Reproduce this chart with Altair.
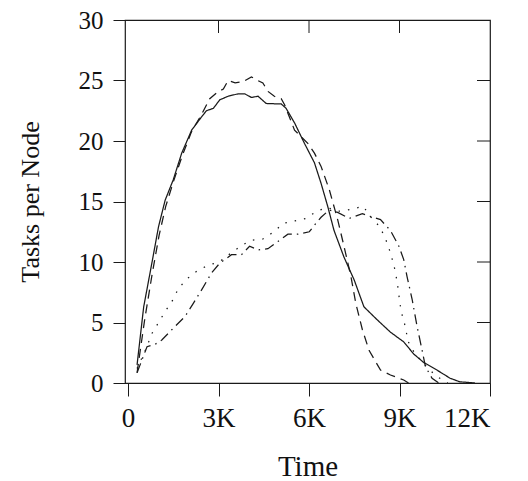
import altair as alt
import pandas as pd

# Time in thousands, Tasks per Node
solid_t = [0.3, 0.52, 0.79, 1.01, 1.23, 1.5, 1.78, 2.11, 2.44, 2.6, 2.83, 3.04, 3.32, 3.65, 3.87, 4.09, 4.31, 4.58,
           5.08, 5.24, 5.52, 5.85, 6.18, 6.4, 6.62, 6.83, 7.16, 7.5, 7.82, 8.27, 8.7, 9.14, 9.47, 9.8, 10.24, 10.68, 11.0, 11.5]
solid_v = [1.5, 6.3, 9.9, 12.9, 15.1, 16.8, 19.0, 20.9, 22.0, 22.5, 22.7, 23.4, 23.7, 23.9, 23.9, 23.6, 23.7, 23.1,
           23.06, 22.7, 21.5, 19.8, 18.2, 16.5, 14.6, 12.6, 10.4, 8.5, 6.3, 5.2, 4.2, 3.4, 2.4, 1.7, 1.07, 0.39, 0.1, 0.0]

dash_t = [0.3, 0.55, 0.8, 1.03, 1.25, 1.5, 1.8, 2.11, 2.44, 2.71, 2.95, 3.16, 3.32, 3.55, 3.81, 4.09, 4.3, 4.47, 4.64,
          4.85, 5.08, 5.19, 5.52, 5.96, 6.18, 6.4, 6.67, 6.95, 7.16, 7.39, 7.55, 7.77, 7.99, 8.37, 8.7, 9.14, 9.3]
dash_v = [0.85, 5.2, 9.0, 12.2, 14.6, 16.6, 18.8, 20.8, 22.2, 23.5, 24.0, 24.3, 25.0, 24.8, 24.9, 25.3, 25.0, 24.8, 24.1,
          23.7, 23.5, 23.0, 20.9, 19.8, 19.0, 17.9, 16.0, 13.5, 11.3, 8.8, 6.6, 4.4, 2.7, 1.07, 0.66, 0.25, 0.0]

dot_t = [0.3, 0.63, 0.77, 0.99, 1.23, 1.47, 1.67, 1.95, 2.31, 2.68, 3.02, 3.34, 3.73, 4.07, 4.47, 4.84, 5.15, 5.54,
         5.9, 6.26, 6.6, 7.0, 7.39, 7.8, 8.02, 8.35, 8.54, 8.68, 8.81, 8.89, 8.96, 9.01, 9.09, 9.21, 9.27, 9.47, 9.8,
         10.2, 10.6]
dot_v = [1.2, 3.0, 4.0, 4.9, 5.9, 6.8, 7.8, 8.6, 9.3, 9.75, 10.0, 10.6, 11.3, 11.8, 11.9, 12.5, 13.2, 13.4,
         13.6, 14.2, 14.5, 14.2, 14.35, 14.6, 13.8, 12.9, 11.9, 10.9, 9.8, 8.8, 7.7, 6.6, 5.6, 4.5, 3.5, 2.6, 1.6,
         0.6, 0.0]

dd_t = [0.3, 0.63, 0.9, 1.12, 1.45, 1.89, 2.17, 2.44, 2.77, 3.04, 3.43, 3.76, 4.03, 4.31, 4.64, 4.97, 5.3, 5.63,
        6.01, 6.23, 6.4, 6.67, 6.95, 7.33, 7.77, 7.99, 8.37, 8.7, 8.98, 9.14, 9.25, 9.42, 9.58, 9.75, 9.86, 10.08, 10.3]
dd_v = [0.85, 3.0, 3.2, 3.55, 4.4, 5.5, 6.6, 7.7, 9.1, 9.9, 10.6, 10.6, 11.3, 11.0, 11.1, 11.7, 12.3, 12.3,
        12.5, 13.2, 13.7, 14.3, 14.1, 13.6, 14.0, 13.8, 13.5, 12.6, 11.3, 10.2, 8.8, 6.9, 4.7, 2.7, 1.35, 0.39, 0.0]

x_ticks = [0, 3000, 6000, 9000, 12000]
y_ticks = [0, 5, 10, 15, 20, 25, 30]
top_ticks = [3000, 6000, 9000]
right_ticks = [5, 10, 15, 20, 25]

series = [("solid", solid_t, solid_v), ("dashed", dash_t, dash_v),
          ("dotted", dot_t, dot_v), ("dashdot", dd_t, dd_v)]
rows = []
for name, ts, vs in series:
    for i, (t, v) in enumerate(zip(ts, vs)):
        rows.append({"s": name, "t": t * 1000, "v": v, "i": i})
df = pd.DataFrame(rows)

W, H = 365, 363
FONT = "Liberation Serif"

xscale = alt.Scale(domain=[-100, 12000], nice=False, zero=False)
yscale = alt.Scale(domain=[0, 30], nice=False)

xaxis = alt.Axis(values=x_ticks, title="Time", grid=False, domain=False,
                 tickSize=13, tickColor="#1a1a1a", labelPadding=9,
                 labelExpr="datum.value == 0 ? '0' : (datum.value / 1000) + 'K'",
                 labelFont=FONT, labelFontSize=27, labelColor="#111",
                 titleFont=FONT, titleFontSize=29, titleFontWeight="normal", titleColor="#111",
                 titleX=W / 2, titleY=92, titleBaseline="alphabetic")
yaxis = alt.Axis(values=y_ticks, title="Tasks per Node", grid=False, domain=False,
                 tickSize=12, tickColor="#1a1a1a", labelPadding=10,
                 labelFont=FONT, labelFontSize=25, labelColor="#111",
                 titleFont=FONT, titleFontSize=26, titleFontWeight="normal", titleColor="#111",
                 titleX=-87, titleY=H / 2, titleBaseline="alphabetic", titleAlign="center",
                 titleAngle=270)

lines = alt.Chart(df).mark_line(color="#1a1a1a", strokeWidth=1.25, strokeCap="butt").encode(
    x=alt.X("t:Q", scale=xscale, axis=xaxis, title="Time"),
    y=alt.Y("v:Q", scale=yscale, axis=yaxis, title="Tasks per Node"),
    strokeDash=alt.StrokeDash("s:N", legend=None,
                              scale=alt.Scale(domain=["solid", "dashed", "dotted", "dashdot"],
                                              range=[[1, 0], [9, 6], [1.5, 8], [10, 5, 1.5, 5]])),
    detail="s:N",
    order="i:Q",
)

top = alt.Chart(pd.DataFrame({"t": top_ticks})).mark_rule(color="#1a1a1a", strokeWidth=1).encode(
    x=alt.X("t:Q", scale=xscale, axis=xaxis, title="Time"),
    y=alt.value(0), y2=alt.value(13),
)
right = alt.Chart(pd.DataFrame({"v": right_ticks})).mark_rule(color="#1a1a1a", strokeWidth=1).encode(
    y=alt.Y("v:Q", scale=yscale, axis=yaxis, title="Tasks per Node"),
    x=alt.value(W - 13), x2=alt.value(W),
)

chart = alt.layer(lines, top, right).properties(
    width=W, height=H,
    autosize=alt.AutoSizeParams(type="none"),
    padding={"left": 125, "top": 20, "right": 38, "bottom": 98},
    background="white",
).configure_view(stroke="#1a1a1a", strokeWidth=1.2)

chart.save("out.html", embed_options={"renderer": "svg", "actions": False})
